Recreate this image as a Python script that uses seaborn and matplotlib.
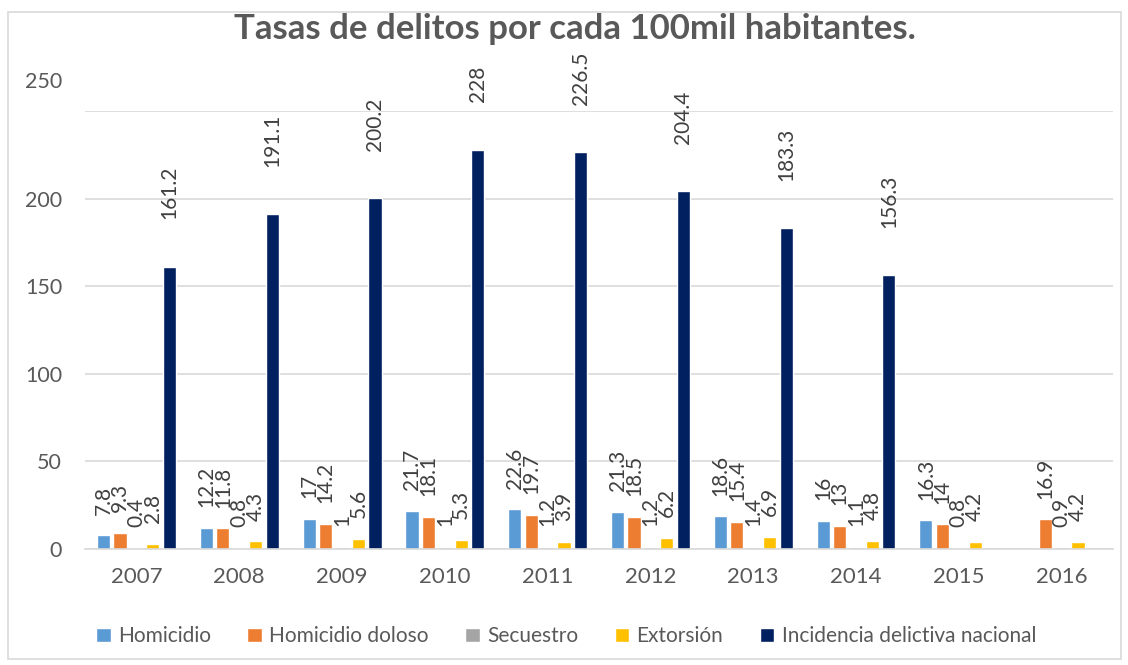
import seaborn as sns
import matplotlib.pyplot as plt
import matplotlib.transforms as mtransforms
import pandas as pd
import numpy as np
from matplotlib.patches import Rectangle

# Datos
anios = ['2007', '2008', '2009', '2010', '2011', '2012', '2013', '2014', '2015', '2016']
homicidio = [7.8, 12.2, 17, 21.7, 22.6, 21.3, 18.6, 16, 16.3, np.nan]
homicidio_doloso = [9.3, 11.8, 14.2, 18.1, 19.7, 18.5, 15.4, 13, 14, 16.9]
secuestro = [0.4, 0.8, 1, 1, 1.2, 1.2, 1.4, 1.1, 0.8, 0.9]
extorsion = [2.8, 4.3, 5.6, 5.3, 3.9, 6.2, 6.9, 4.8, 4.2, 4.2]
incidencia = [161.2, 191.1, 200.2, 228, 226.5, 204.4, 183.3, 156.3, np.nan, np.nan]

series = ['Homicidio', 'Homicidio doloso', 'Secuestro', 'Extorsión', 'Incidencia delictiva nacional']
colores = ['#5B9BD5', '#ED7D31', '#A5A5A5', '#FFC000', '#002060']

df = pd.DataFrame({'Año': anios, series[0]: homicidio, series[1]: homicidio_doloso,
                   series[2]: secuestro, series[3]: extorsion, series[4]: incidencia})
df = df.melt(id_vars='Año', var_name='Serie', value_name='Tasa')

sns.set_style('white')
plt.rcParams['font.family'] = ['Lato', 'DejaVu Sans']

fig = plt.figure(figsize=(11.28, 6.65), dpi=100)
ax = fig.add_axes([0.0754, 0.1744, 0.9113, 0.6587])

sns.barplot(data=df, x='Año', y='Tasa', hue='Serie', hue_order=series, order=anios,
            palette=colores, width=0.8, gap=0.2, saturation=1, ax=ax, legend=True)

# etiquetas de datos (las de la serie grande van más separadas, como en Excel)
for i, cont in enumerate(ax.containers):
    pad = 34 if i == len(series) - 1 else 15
    ax.bar_label(cont, fmt='%g', rotation=90, padding=pad, fontsize=15, color='#404040')

ax.set_ylim(0, 250)
ax.set_yticks(range(0, 251, 50))
ax.yaxis.grid(True, color='#D9D9D9', linewidth=1.2)
ax.set_axisbelow(True)
for s in ['top', 'right', 'left']:
    ax.spines[s].set_visible(False)
ax.spines['bottom'].set_color('#D9D9D9')
ax.spines['bottom'].set_linewidth(1.2)
ax.tick_params(axis='y', length=0, pad=16.5, labelsize=15.5, labelcolor='#595959')
ax.tick_params(axis='x', length=0, pad=13, labelsize=16, labelcolor='#595959')
ax.set_xlabel('')
ax.set_ylabel('')

# en el original la etiqueta "250" queda por encima de su línea
lbl_top = ax.get_yticklabels()[-1]
lbl_top.set_transform(lbl_top.get_transform() +
                      mtransforms.ScaledTranslation(0, 0.31, fig.dpi_scale_trans))

fig.suptitle('Tasas de delitos por cada 100mil habitantes.', x=0.51, y=0.98,
             fontsize=25, fontweight='bold', color='#595959')

ax.legend(loc='center', bbox_to_anchor=(0.468, -0.199), ncol=5, frameon=False,
          fontsize=15, handlelength=0.7, handleheight=0.7, handletextpad=0.35,
          columnspacing=1.75, labelcolor='#595959')

fig.patches.append(Rectangle((8 / 1128, 6 / 665), 1113 / 1128, 647 / 665,
                             transform=fig.transFigure, fill=False,
                             edgecolor='#D9D9D9', linewidth=1.2))

fig.savefig('out.png', dpi=100)
